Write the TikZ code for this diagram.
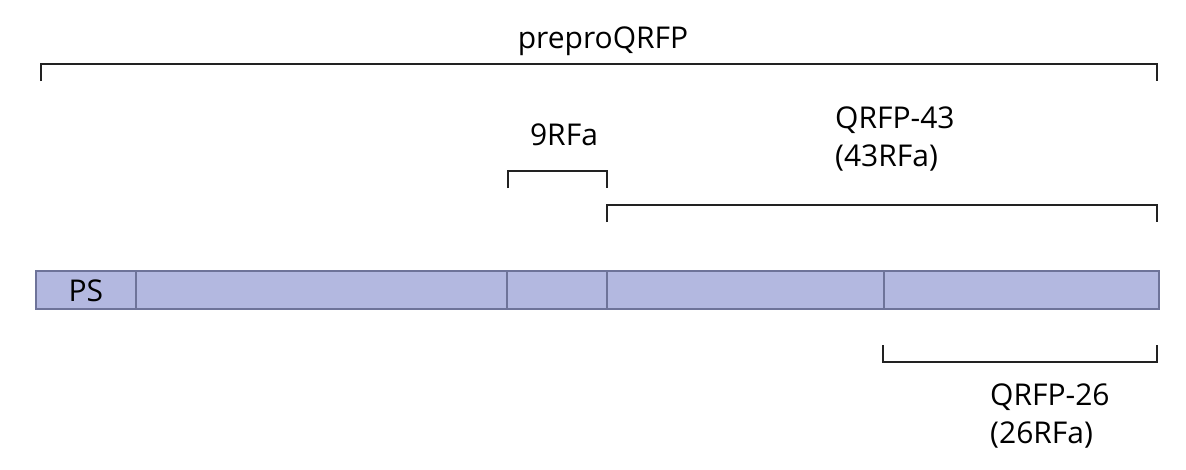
\documentclass[tikz,border=0pt]{standalone}
\usepackage{fontspec}
\setmainfont{Open Sans}
\definecolor{segfill}{HTML}{B3B8E0}
\definecolor{segline}{HTML}{6E7399}
\definecolor{brk}{HTML}{222222}
\begin{document}
\begin{tikzpicture}[x=1pt,y=-1pt,
  seg/.style={draw=segline,line width=1.8pt,fill=segfill,rectangle,inner sep=0pt,
    minimum height=38pt,anchor=north west},
  bracket/.style={draw=brk,line width=2.2pt},
  lbl/.style={font=\fontsize{30}{38}\selectfont,inner sep=0pt,text=black}]
\useasboundingbox[fill=white] (0,0) rectangle (1186,469);
% precursor segments
\node[seg,minimum width=100pt] (ps) at (35,270) {};
\node[seg,minimum width=371pt] (s2) at (135,270) {};
\node[seg,minimum width=100pt] (s3) at (506,270) {};
\node[seg,minimum width=277pt] (s4) at (606,270) {};
\node[seg,minimum width=275pt] (s5) at (883,270) {};
\node[lbl,anchor=base] (pslbl) at (ps.center |- 0,301) {PS};
% preproQRFP bracket
\coordinate (a1) at (41,81);  \coordinate (a2) at (41,64);
\coordinate (a3) at (1157,64); \coordinate (a4) at (1157,81);
\draw[bracket] (a1) -- (a2) -- (a3) -- (a4);
\node[lbl,anchor=base] (lpre) at (603,48) {preproQRFP};
% 9RFa bracket
\coordinate (b1) at (508,188); \coordinate (b2) at (508,171);
\coordinate (b3) at (607,171); \coordinate (b4) at (607,188);
\draw[bracket] (b1) -- (b2) -- (b3) -- (b4);
\node[lbl,anchor=base] (l9) at (564,145) {9RFa};
% QRFP-43 bracket
\coordinate (c1) at (607,222); \coordinate (c2) at (607,205);
\coordinate (c3) at (1157,205); \coordinate (c4) at (1157,222);
\draw[bracket] (c1) -- (c2) -- (c3) -- (c4);
\node[lbl,anchor=north west,align=left] (l43) at (835,107) {QRFP-43\\(43RFa)};
% QRFP-26 bracket
\coordinate (d1) at (883,345); \coordinate (d2) at (883,362);
\coordinate (d3) at (1157,362); \coordinate (d4) at (1157,345);
\draw[bracket] (d1) -- (d2) -- (d3) -- (d4);
\node[lbl,anchor=north west,align=left] (l26) at (990,384) {QRFP-26\\(26RFa)};
\end{tikzpicture}
\end{document}
